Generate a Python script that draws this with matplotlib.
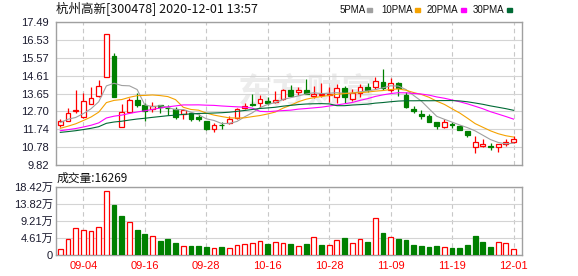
import numpy as np
import pandas as pd
import matplotlib
matplotlib.use('Agg')
import matplotlib.pyplot as plt
from matplotlib.patches import Rectangle

# 杭州高新 300478, daily bars 2020-09-01 .. 2020-12-01
open_ = [11.95, 12.18, 12.72, 12.38, 13.09, 13.50, 14.52, 15.67, 11.84, 12.65,
         13.31, 13.04, 12.81, 13.02, 12.88, 12.81, 12.54, 12.59, 12.41, 12.18,
         11.75, 11.97, 12.06, 12.36, 12.90, 13.08, 13.16, 13.25, 13.22, 13.34,
         13.84, 13.75, 13.84, 13.52, 13.56, 13.56, 13.45, 13.97, 13.36, 13.70,
         14.02, 14.02, 14.29, 13.84, 14.20, 13.57, 12.81, 12.54, 12.45, 12.11,
         11.88, 12.00, 11.91, 11.64, 10.80, 10.84, 10.84, 10.79, 10.93, 11.07]
high = [12.27, 12.86, 13.84, 13.67, 13.99, 14.38, 16.85, 15.84, 13.09, 13.43,
        13.67, 13.13, 13.18, 13.02, 13.04, 12.91, 12.82, 12.68, 12.54, 12.18,
        12.06, 12.14, 12.45, 12.88, 13.13, 13.63, 13.57, 13.45, 13.79, 13.90,
        14.11, 14.02, 14.42, 14.06, 14.23, 14.02, 14.15, 14.06, 13.90, 14.15,
        14.23, 14.52, 14.97, 14.47, 14.29, 13.75, 12.98, 12.77, 12.54, 12.11,
        12.27, 12.14, 11.95, 11.64, 11.38, 11.22, 10.98, 10.93, 11.22, 11.38]
low = [11.88, 12.18, 12.63, 12.33, 13.09, 13.47, 14.52, 13.48, 11.84, 12.59,
       12.91, 12.20, 12.68, 12.59, 12.50, 12.30, 12.29, 12.20, 12.18, 11.70,
       11.61, 11.77, 12.00, 12.29, 12.82, 12.98, 12.91, 13.02, 13.16, 13.31,
       13.45, 13.57, 13.63, 13.40, 13.45, 13.22, 13.16, 13.13, 13.27, 13.48,
       13.75, 13.88, 13.84, 13.75, 13.54, 12.86, 12.59, 12.29, 12.11, 11.75,
       11.79, 11.79, 11.70, 11.31, 10.48, 10.77, 10.62, 10.53, 10.86, 11.02]
close = [12.18, 12.59, 12.77, 13.25, 13.40, 14.04, 16.85, 13.48, 12.65, 13.31,
         13.05, 12.73, 13.00, 12.92, 12.86, 12.41, 12.77, 12.29, 12.27, 11.75,
         11.97, 11.95, 12.30, 12.81, 13.00, 13.04, 13.36, 13.13, 13.31, 13.84,
         13.52, 13.84, 13.63, 13.65, 13.61, 13.63, 13.97, 13.48, 13.67, 13.99,
         13.84, 14.33, 13.97, 14.20, 13.93, 12.91, 12.73, 12.47, 12.14, 11.91,
         12.11, 11.97, 11.70, 11.43, 11.04, 10.95, 10.80, 10.93, 11.05, 11.22]
# 成交量 (手)
volume = [16300, 42500, 72300, 67700, 64100, 75000, 172500, 135500, 105700, 88500,
          67700, 56900, 50600, 37000, 43300, 32500, 24400, 24400, 24400, 21700,
          18100, 21700, 18100, 26200, 28900, 31600, 37000, 28900, 34300, 31600,
          29500, 24400, 29800, 48800, 27100, 27100, 40600, 46100, 32500, 43300,
          35200, 100200, 59600, 48800, 43300, 40600, 27100, 24400, 21700, 24400,
          21700, 19000, 19000, 27100, 51500, 35200, 21700, 35200, 32500, 16269]
# closes of the 29 sessions before 09-01 (only used to start the moving averages)
prior_close = [11.30, 11.35, 11.42, 11.38, 11.45, 11.40, 11.36, 11.42, 11.40, 11.42,
               11.48, 11.55, 11.60, 11.52, 11.50, 11.58, 11.55, 11.50, 11.52, 11.50,
               11.45, 11.50, 11.48, 11.52, 11.45, 11.70, 12.30, 12.20, 12.10]

price_ticks = [9.82, 10.78, 11.74, 12.70, 13.65, 14.61, 15.57, 16.53, 17.49]
vol_ticks = [0, 4.61, 9.21, 13.82, 18.42]  # 万
date_labels = ['09-04', '09-16', '09-28', '10-16', '10-28', '11-09', '11-19', '12-01']

# trading days (national day holiday 10-01..10-08 closed)
days = [d for d in pd.bdate_range('2020-09-01', '2020-12-01')
        if not (pd.Timestamp('2020-10-01') <= d <= pd.Timestamp('2020-10-08'))]
day_str = [d.strftime('%m-%d') for d in days]
label_idx = [day_str.index(s) for s in date_labels]

n = len(close)
x = np.arange(n)
o = np.array(open_)
h = np.array(high)
l = np.array(low)
c = np.array(close)
v = np.array(volume)

all_close = pd.Series(prior_close + close)
ma = {k: all_close.rolling(k).mean().iloc[len(prior_close):].values for k in (5, 10, 20, 30)}

RED = '#ff0000'
GREEN = '#008000'
ma_colors = {5: '#a0a0a0', 10: '#f5a200', 20: '#ff00ff', 30: '#006a35'}
grid_c = '#d4d4d4'
spine_c = '#a0a0a0'
lab_font = ['Liberation Sans', 'Noto Sans CJK SC']
cjk_font = ['Noto Sans CJK SC', 'DejaVu Sans']

fig = plt.figure(figsize=(5.78, 2.76), dpi=100)
W, H = 578, 276
ax = fig.add_axes([56 / W, 1 - 165 / H, 466 / W, 143 / H])
axv = fig.add_axes([56 / W, 1 - 255 / H, 466 / W, 68 / H])

for a in (ax, axv):
    a.set_xlim(-0.56, 60.1)
    for s in a.spines.values():
        s.set_color(spine_c)
        s.set_linewidth(1.0)
    a.set_xticks(label_idx)
    a.xaxis.grid(True, color='#c8c8c8', linestyle=(0, (4, 3)), linewidth=0.8)
    a.yaxis.grid(True, color=grid_c, linewidth=0.8)
    a.set_axisbelow(True)
    a.tick_params(length=0)

# --- candles
up = c >= o
width = 0.62
ax.vlines(x[up], l[up], h[up], color=RED, linewidth=0.9, zorder=2)
ax.vlines(x[~up], l[~up], h[~up], color=GREEN, linewidth=0.9, zorder=2)
body_lo = np.minimum(o, c)
body_h = np.maximum(np.abs(c - o), 0.005)
ax.bar(x[up], body_h[up], width, bottom=body_lo[up], facecolor='white',
       edgecolor=RED, linewidth=0.9, zorder=3)
ax.bar(x[~up], body_h[~up], width, bottom=body_lo[~up], facecolor=GREEN,
       edgecolor=GREEN, linewidth=0.9, zorder=3)

for k in (5, 10, 20, 30):
    ax.plot(x, ma[k], color=ma_colors[k], linewidth=0.8, zorder=4)

ax.set_ylim(price_ticks[0], price_ticks[-1])
ax.set_yticks(price_ticks)
ax.set_yticklabels([f'{t:.2f}' for t in price_ticks], fontsize=8,
                   family=lab_font, color='#1a1a2e')
ax.tick_params(axis='y', pad=5)
ax.set_xticklabels([])

ax.text(0.54, 0.51, '东方财富', transform=ax.transAxes, ha='center', va='center',
        fontsize=25, fontweight='bold', color='#ececec', family=cjk_font, zorder=0.5)

# --- volume
prev = np.concatenate([[prior_close[-1]], c[:-1]])
vup = c >= prev
axv.bar(x[vup], v[vup], width, facecolor='white', edgecolor=RED, linewidth=0.9, zorder=3)
axv.bar(x[~vup], v[~vup], width, facecolor=GREEN, edgecolor=GREEN, linewidth=0.9, zorder=3)
axv.set_ylim(0, vol_ticks[-1] * 1e4)
axv.set_yticks([t * 1e4 for t in vol_ticks])
axv.set_yticklabels([f'{t:.2f}万' if t else '0' for t in vol_ticks], fontsize=8,
                    family=lab_font, color='#1a1a2e')
axv.tick_params(axis='y', pad=2)
axv.set_xticklabels(date_labels, fontsize=8, family=lab_font, color=RED)
axv.tick_params(axis='x', pad=4)

# --- header texts
fig.text(56 / W, 1 - 9 / H, '杭州高新[300478] 2020-12-01 13:57', fontsize=9,
         family=cjk_font, va='center', ha='left', color='#111111')
fig.text(57 / W, 1 - 178 / H, f'成交量:{volume[-1]}', fontsize=8.5,
         family=cjk_font, va='center', ha='left', color='#111111')

legend_pos = [(5, 340, 367), (10, 381, 415), (20, 427, 461), (30, 473, 507)]
for k, tx, sx in legend_pos:
    fig.text(tx / W, 1 - 10 / H, f'{k}PMA', fontsize=7, family=lab_font,
             va='center', ha='left', color='#111111')
    fig.patches.append(Rectangle((sx / W, 1 - 12 / H), 5 / W, 4 / H,
                                 transform=fig.transFigure, color=ma_colors[k]))

fig.savefig('out.png', dpi=100)
